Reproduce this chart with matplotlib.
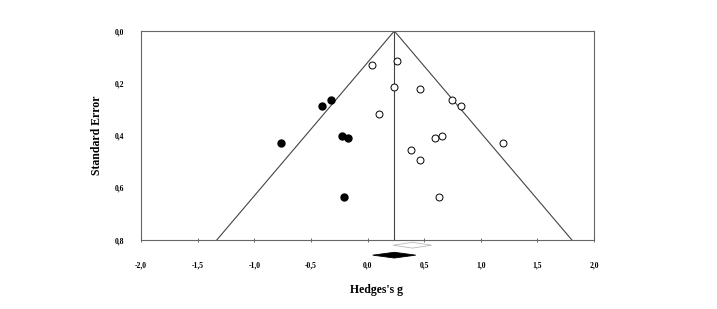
import matplotlib
matplotlib.use("Agg")
import matplotlib.pyplot as plt
from matplotlib.patches import Polygon

# Observed studies (open circles)
obs_g = [0.041, 0.262, 0.238, 0.465, 0.103, 0.747, 0.826, 0.597, 0.656, 1.200, 0.382, 0.462, 0.635]
obs_se = [0.132, 0.114, 0.216, 0.221, 0.318, 0.263, 0.286, 0.411, 0.400, 0.429, 0.454, 0.495, 0.636]
# Imputed studies (filled circles)
imp_g = [-0.768, -0.400, -0.318, -0.224, -0.168, -0.206]
imp_se = [0.429, 0.286, 0.263, 0.400, 0.411, 0.636]

mean_adj = 0.237           # adjusted combined effect
obs_ci = [0.225, 0.567]    # observed combined CI (white diamond)
adj_ci = [0.046, 0.426]    # adjusted combined CI (black diamond)
obs_mean = 0.396
se_max = 0.8

xticks = [-2.0, -1.5, -1.0, -0.5, 0.0, 0.5, 1.0, 1.5, 2.0]
yticks = [0.0, 0.2, 0.4, 0.6, 0.8]

def fmt(v):
    return f"{v:.1f}".replace(".", ",")

plt.rcParams['font.family'] = ['Liberation Serif', 'DejaVu Serif']
plt.rcParams['font.weight'] = 'bold'

fig = plt.figure(figsize=(7.17, 3.09), dpi=100)
ax = fig.add_axes([141/717, 1-240/309, (594-141)/717, (240-31)/309])

ax.set_xlim(-2, 2)
ax.set_ylim(se_max, 0)

lc = '#444444'
ax.plot([mean_adj, mean_adj - 1.96*se_max], [0, se_max], color=lc, lw=0.8)
ax.plot([mean_adj, mean_adj + 1.96*se_max], [0, se_max], color=lc, lw=0.8)
ax.plot([mean_adj, mean_adj], [0, se_max], color=lc, lw=0.8)

ax.plot(obs_g, obs_se, 'o', mfc='white', mec='black', mew=0.7, ms=5, linestyle='none')
ax.plot(imp_g, imp_se, 'o', mfc='black', mec='black', ms=5, linestyle='none')

# diamonds below the axis
h = 0.011
ax.add_patch(Polygon([[obs_ci[0], 0.82], [obs_mean, 0.82 - h], [obs_ci[1], 0.82], [obs_mean, 0.82 + h]],
                     closed=True, facecolor='white', edgecolor='#bbbbbb', lw=0.6, clip_on=False))
ax.add_patch(Polygon([[adj_ci[0], 0.858], [mean_adj, 0.858 - h], [adj_ci[1], 0.858], [mean_adj, 0.858 + h]],
                     closed=True, facecolor='black', edgecolor='black', lw=0.6, clip_on=False))

ax.set_xticks(xticks)
ax.set_xticklabels([fmt(v) for v in xticks], fontsize=5.5, fontweight='bold')
ax.set_yticks(yticks)
ax.set_yticklabels([fmt(v) for v in yticks], fontsize=5.5, fontweight='bold')
ax.tick_params(axis='x', direction='inout', length=3, width=0.6, pad=14, colors='#555555', labelcolor='black')
ax.tick_params(axis='y', direction='in', length=0, pad=12, labelcolor='black')

for s in ax.spines.values():
    s.set_color('#666666')
    s.set_linewidth(0.8)

ax.set_xlabel("Hedges's g", fontsize=8.5, fontweight='bold', va='center')
ax.set_ylabel("Standard Error", fontsize=8.5, fontweight='bold', va='center')
ax.xaxis.set_label_coords((377 - 141) / 453, (240 - 290) / 209)
ax.yaxis.set_label_coords((97 - 141) / 453, 0.5)

fig.savefig("out.png", dpi=100)
